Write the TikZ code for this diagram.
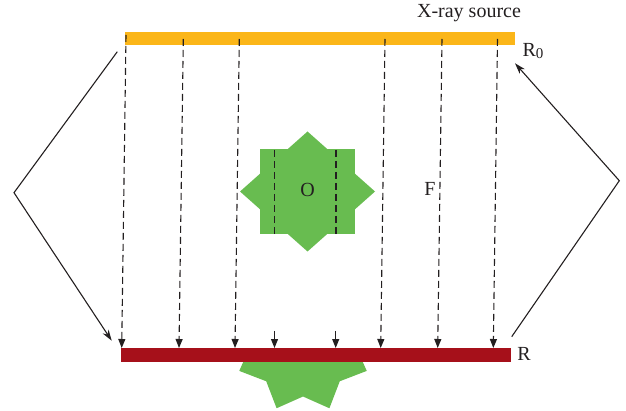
\documentclass[tikz,border=0pt]{standalone}
\usepackage{fontspec}
\setmainfont{Liberation Serif}
\usetikzlibrary{arrows.meta}
\definecolor{srcyellow}{RGB}{251,182,25}
\definecolor{detred}{RGB}{166,16,26}
\definecolor{objgreen}{RGB}{104,188,80}
\definecolor{inkgray}{RGB}{35,31,32}
\tikzset{
  ray/.style={draw=inkgray, line width=1.1pt, dash pattern=on 7pt off 4pt},
  raytip/.style={-{Triangle[length=9pt,width=7pt]}},
  bracket/.style={draw=inkgray, line width=1.1pt, -{Stealth[length=11pt,width=7pt]}},
  lab/.style={text=inkgray, font=\fontsize{20}{22}\selectfont, inner sep=0pt}
}
\begin{document}
\begin{tikzpicture}[x=1pt,y=-1pt]
\useasboundingbox (0,0) rectangle (626,411);
% lower object (only the part below the detector shows)
\begin{scope}
\clip (200,355) rectangle (420,411);
\begin{scope}[shift={(303,344.5)}]
\fill[objgreen] (22.5:69) \foreach \k in {1,...,7} { -- ({45*\k}:52) -- ({22.5+45*\k}:69) } -- (0:52) -- cycle;
\end{scope}
\end{scope}
% upper object O
\fill[objgreen] (260,149) rectangle (355,234);
\fill[objgreen] (307.5,131.5) -- (375,191.5) -- (307.5,251.5) -- (240,191.5) -- cycle;
% source and detector
\fill[srcyellow] (125,32) rectangle (515,45);
\fill[detred] (121,348) rectangle (511,362);
% ray coordinates
\coordinate (s1) at (126,35);  \coordinate (d1) at (121.7,348);
\coordinate (s2) at (183.3,39); \coordinate (d2) at (179,348);
\coordinate (s3) at (239.3,39); \coordinate (d3) at (235,348);
\coordinate (s6) at (385,39);  \coordinate (d6) at (380.7,348);
\coordinate (s7) at (442,39);  \coordinate (d7) at (437.7,348);
\coordinate (s8) at (497.5,39); \coordinate (d8) at (493.3,348);
\coordinate (o4t) at (274.5,150); \coordinate (o4b) at (274.5,235);
\coordinate (o5t) at (336,150);   \coordinate (o5b) at (336,235);
\coordinate (e4t) at (274.5,331); \coordinate (e4b) at (274.5,348);
\coordinate (e5t) at (335.7,331); \coordinate (e5b) at (335.7,348);
\foreach \i in {1,2,3,6,7,8} { \draw[ray,raytip] (s\i) -- (d\i); }
\draw[ray] (o4t) -- (o4b);
\draw[ray] (o5t) -- (o5b);
\draw[draw=inkgray, line width=1.1pt, raytip] (e4t) -- (e4b);
\draw[draw=inkgray, line width=1.1pt, raytip] (e5t) -- (e5b);
% brackets
\coordinate (la) at (117.3,51.7); \coordinate (lv) at (14,192.7); \coordinate (lb) at (111.7,340.7);
\coordinate (ra) at (511.7,336.7); \coordinate (rv) at (619.3,180.7); \coordinate (rb) at (515,63.3);
\draw[bracket] (la) -- (lv) -- (lb);
\draw[bracket] (ra) -- (rv) -- (rb);
% labels
\node[lab] (src) at (469,13) {X-ray source};
\node[lab] (r0) at (533,51) {R\raisebox{-0.3ex}{\fontsize{15}{16}\selectfont 0}};
\node[lab] (r) at (524,354) {R};
\node[lab] (o) at (307.5,190) {O};
\node[lab] (f) at (430,189) {F};
\end{tikzpicture}
\end{document}
